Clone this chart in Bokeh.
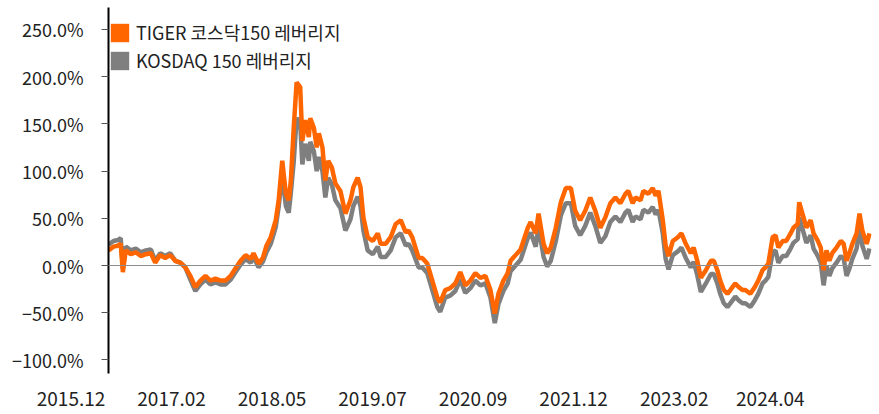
from bokeh.plotting import figure
from bokeh.models import Range1d, FixedTicker, Span, Legend, LegendItem
from bokeh.embed import file_html
from bokeh.resources import INLINE

# x: months since 2015.12 (approx., axis is evenly spaced)
t = [0.0, 0.7, 1.3, 1.7, 2.0, 2.4, 3.1, 3.8, 4.5, 5.2,
     5.9, 6.5, 7.2, 7.9, 8.6, 9.3, 10.0, 10.7, 11.4, 12.1,
     12.8, 13.5, 14.2, 14.9, 15.6, 16.3, 17.0, 17.7, 18.4, 19.1,
     19.8, 20.2, 20.9, 21.5, 22.0, 22.6, 23.3, 23.7, 24.2, 24.7,
     25.1, 25.4, 25.8, 26.2, 26.7, 27.0, 27.4, 27.9, 28.1, 28.6,
     29.0, 29.3, 29.8, 30.2, 30.6, 31.1, 31.6, 32.3, 33.0, 33.7,
     34.1, 34.7, 35.1, 35.5, 36.1, 36.8, 37.5, 37.9, 38.6, 39.3,
     40.0, 40.7, 41.4, 41.8, 42.3, 43.2, 43.7, 44.4, 45.1, 45.8,
     46.2, 46.9, 47.6, 48.3, 49.0, 49.7, 50.4, 51.1, 51.8, 52.5,
     53.2, 53.8, 54.3, 55.0, 55.6, 56.0, 56.7, 57.4, 58.4, 58.8,
     59.5, 59.9, 60.6, 61.1, 61.6, 62.3, 63.0, 63.7, 64.4, 65.0,
     65.7, 66.4, 67.1, 67.8, 68.5, 69.2, 69.9, 70.6, 71.3, 72.0,
     72.4, 73.0, 73.4, 74.1, 74.5, 75.2, 75.8, 76.2, 76.6, 77.2,
     77.6, 78.0, 78.6, 79.3, 79.8, 80.4, 81.1, 81.5, 82.0, 82.5,
     83.2, 83.9, 84.3, 84.8, 85.2, 85.7, 86.2, 86.6, 87.3, 87.8,
     88.3, 88.7, 89.4, 90.0, 90.5, 91.1, 91.5, 91.9, 92.5, 92.9,
     93.3, 93.9, 94.4, 95.0, 95.4, 96.0, 96.2, 96.8, 97.2, 97.8,
     98.2, 98.8, 99.2, 99.6, 100.0, 100.4, 100.8, 101.4, 102.0, 102.4,
     102.8, 103.2, 103.6, 104.2, 104.6, 105.0, 105.6, 106.0]

tiger = [16, 20, 21, 23, -7, 16, 12, 14, 10, 12,
         13, 3, 11, 8, 11, 5, 3, -2, -11, -23,
         -16, -11, -16, -14, -16, -16, -11, -3, 5, 11,
         7, 13, 2, 8, 21, 30, 48, 69, 111, 76,
         69, 90, 146, 194, 189, 132, 154, 136, 156, 146,
         125, 140, 125, 90, 111, 104, 87, 79, 55, 69,
         83, 93, 83, 51, 30, 26, 34, 23, 23, 30,
         44, 48, 35, 37, 30, 8, 8, 2, -16, -34,
         -39, -26, -24, -19, -7, -21, -16, -8, -13, -11,
         -26, -51, -30, -16, -8, 5, 11, 17, 40, 46,
         34, 55, 23, 13, 19, 40, 67, 82, 82, 58,
         48, 58, 72, 58, 40, 51, 66, 72, 66, 76,
         79, 66, 72, 69, 79, 76, 82, 74, 79, 48,
         21, 10, 26, 30, 34, 23, 13, 19, 5, -13,
         -5, 5, 5, -5, -16, -26, -30, -26, -19, -23,
         -26, -26, -30, -23, -16, -5, -2, 2, 30, 32,
         19, 26, 26, 34, 40, 44, 67, 51, 40, 48,
         34, 26, 19, -5, 16, 5, 13, 19, 26, 23,
         5, 13, 23, 34, 55, 37, 23, 34]

kosdaq = [22, 26, 27, 29, -3, 20, 16, 18, 14, 16,
          17, 5, 13, 10, 13, 5, 3, -2, -15, -27,
          -20, -15, -20, -18, -20, -20, -15, -7, 1, 7,
          3, 9, -2, 4, 14, 23, 41, 62, 98, 63,
          56, 77, 110, 156, 151, 107, 129, 111, 131, 121,
          100, 115, 100, 72, 93, 86, 69, 61, 37, 49,
          63, 73, 63, 37, 16, 12, 20, 9, 9, 16,
          30, 34, 21, 23, 16, -2, -2, -8, -26, -44,
          -49, -34, -32, -27, -15, -29, -24, -16, -21, -19,
          -34, -61, -41, -27, -19, -6, 0, 6, 29, 35,
          20, 41, 9, -1, 5, 26, 53, 66, 66, 42,
          32, 42, 56, 42, 24, 31, 46, 52, 46, 56,
          59, 46, 52, 49, 59, 56, 62, 54, 59, 34,
          7, -4, 11, 15, 19, 8, -2, 4, -10, -28,
          -19, -9, -9, -19, -30, -40, -44, -40, -33, -37,
          -40, -40, -44, -37, -30, -19, -16, -12, 14, 16,
          3, 10, 10, 18, 24, 28, 51, 35, 24, 32,
          18, 10, 3, -21, 0, -11, -3, 3, 10, 7,
          -11, -3, 7, 18, 39, 21, 7, 18]

series_names = ["TIGER 코스닥150 레버리지", "KOSDAQ 150 레버리지"]
tick_months = [0, 14, 28, 42, 56, 70, 84, 98]
tick_labels = ["2015.12", "2017.02", "2018.05", "2019.07", "2020.09", "2021.12", "2023.02", "2024.04"]
y_ticks = [-100, -50, 0, 50, 100, 150, 200, 250]
y_tick_labels = ["\u2212100.0%", "\u221250.0%", "0.0%", "50.0%", "100.0%", "150.0%", "200.0%", "250.0%"]

ORANGE = "#FF6600"
GREY = "#7F7F7F"
FONT = "Noto Sans CJK KR"
TXT = "#222222"


def right_pad(s):
    # figure / punctuation spaces so that the centred label ends just left of its tick
    return s + "".join("\u2007" if c.isdigit() else "\u2008" for c in s) + "\u2006\u2006"


p = figure(width=879, height=414, output_backend="svg", toolbar_location=None,
           x_range=Range1d(0, 106.27), y_range=Range1d(-114.4, 273.3),
           min_border_left=108, min_border_right=8, min_border_top=7, min_border_bottom=41)
p.outline_line_color = None
p.xgrid.visible = False
p.ygrid.visible = False
p.background_fill_color = "white"
p.border_fill_color = "white"

p.add_layout(Span(location=0, dimension="width", line_color="#8c8c8c", line_width=1.2))

p.line(t, kosdaq, line_color=GREY, line_width=4.5)
p.line(t, tiger, line_color=ORANGE, line_width=4.5)

nan = float("nan")
q1 = p.quad(left=[nan], right=[nan], bottom=[nan], top=[nan], fill_color=ORANGE, line_color=None)
q2 = p.quad(left=[nan], right=[nan], bottom=[nan], top=[nan], fill_color=GREY, line_color=None)
legend = Legend(items=[LegendItem(label=series_names[0], renderers=[q1]),
                       LegendItem(label=series_names[1], renderers=[q2])],
                location=(0, 300), margin=0, padding=1, spacing=2,
                glyph_width=23, glyph_height=23, label_standoff=5,
                label_text_font=FONT, label_text_font_size="18px", label_text_color=TXT,
                background_fill_alpha=0, border_line_color=None)
p.add_layout(legend)

ax = p.yaxis[0]
ax.ticker = FixedTicker(ticks=y_ticks)
ax.major_label_overrides = dict(zip(y_ticks, y_tick_labels))
ax.axis_line_color = "black"
ax.axis_line_width = 2
ax.major_tick_out = 7
ax.major_tick_in = 0
ax.major_tick_line_color = "#555555"
ax.minor_tick_line_color = None
ax.major_label_standoff = 18
ax.major_label_text_font = FONT
ax.major_label_text_font_size = "18px"
ax.major_label_text_color = TXT

xa = p.xaxis[0]
xa.ticker = FixedTicker(ticks=tick_months)
xa.major_label_overrides = {m: right_pad(s) for m, s in zip(tick_months, tick_labels)}
xa.axis_line_color = None
xa.major_tick_line_color = None
xa.minor_tick_line_color = None
xa.major_tick_out = 0
xa.major_tick_in = 0
xa.major_label_standoff = 10
xa.major_label_text_font = FONT
xa.major_label_text_font_size = "19px"
xa.major_label_text_color = TXT

open("out.html", "w").write(file_html(p, INLINE))
